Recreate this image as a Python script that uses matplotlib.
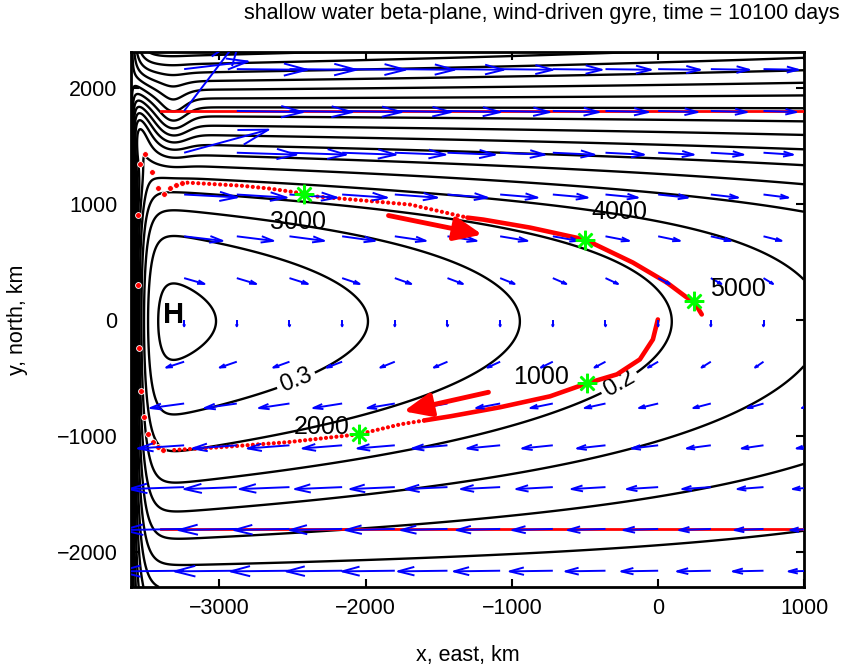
import numpy as np
import matplotlib
matplotlib.use("Agg")
import matplotlib.pyplot as plt
from matplotlib.collections import LineCollection

plt.rcParams['font.family'] = ['Liberation Sans', 'DejaVu Sans']

# ---------------- axes ----------------
x_lim = (-3600.0, 1000.0)
y_lim = (-2300.0, 2310.0)
x_ticks = [-3000, -2000, -1000, 0, 1000]
y_ticks = [-2000, -1000, 0, 1000, 2000]

# ---------------- surface height model (km, m) ----------------
x_west, x_east = -3600.0, 4250.0
h_wall = -0.27
bl_width = 52.0
h_slope = 4.82e-5
shape_k, shape_L = 7.3e-4, 1300.0
north_k, north_y, north_w = 4.5e-4, 1200.0, 250.0
jet_k, jet_y, jet_w = 3.0e-4, 1150.0, 200.0
eddy_amp, eddy_x, eddy_y, eddy_sx, eddy_sy = -0.08, -3320.0, 1740.0, 120.0, 280.0
ridge_amp, ridge_w, ridge_y, ridge_sy = 0.20, 45.0, 1620.0, 330.0
levels = np.round(np.arange(-0.60, 0.36, 0.05), 2)
label_levels = [0.3, 0.2]
label_spots = [(-2478, -512), (-257, -563)]

# ---------------- velocity arrows ----------------
arrow_step = 360.0
u_north, u_south, u_width, u_ref_x = 420.0, 370.0, 1400.0, -1440.0
v_center, v_width = 55.0, 1200.0
eddy_flow = 1.19e6

# ---------------- float track (km) ----------------
track_a_x = [-2, -36, -125, -282, -486, -739, -1080, -1420, -1600]
track_a_y = [4, -168, -340, -469, -546, -658, -752, -830, -866]
track_b_x = [-1600, -1761, -2048, -2532, -2989, -3330]
track_b_y = [-866, -899, -985, -1053, -1096, -1122]
track_c_x = [-3385, -3419, -3453, -3487, -3515, -3535, -3549, -3556, -3556,
             -3542, -3508, -3460, -3419, -3378, -3337, -3296, -3255]
track_c_y = [-1122, -1096, -1053, -985, -838, -615, -245, 297, 907,
             1345, 1431, 1276, 1139, 1087, 1139, 1165, 1182]
track_d_x = [-3255, -3214, -2852, -2647, -2422, -2327, -2082, -1693, -1304]
track_d_y = [1182, 1182, 1156, 1130, 1088, 1062, 1036, 993, 881]
track_e_x = [-1304, -1195, -875, -500, -173, 59, 196, 244, 298]
track_e_y = [881, 864, 795, 692, 494, 322, 193, 159, 47]

zonal_track_x = [-3400, 1000]
zonal_track_y = [1800, -1800]

star_x = [-486, -2048, -2422, -500, 244]
star_y = [-546, -985, 1088, 692, 159]
star_days = ['1000', '2000', '3000', '4000', '5000']
day_label_x = [-800, -2301, -2464, -268, 543]
day_label_y = [-494, -924, 847, 933, 262]

flow_arrow_tail = [(-1843, 899), (-1160, -623)]
flow_arrow_head = [(-1202, 735), (-1740, -787)]

high_x, high_y = -3315, 39

title = 'shallow water beta-plane, wind-driven gyre, time = 10100 days'
x_label = 'x, east, km'
y_label = 'y, north, km'


def softplus(z):
    return np.logaddexp(0.0, z)


def eddy(x, y):
    return eddy_amp * np.exp(-((x - eddy_x) / eddy_sx) ** 2 - ((y - eddy_y) / eddy_sy) ** 2)


def surface_height(x, y):
    g = (1.0 - shape_k * (np.sqrt(y ** 2 + shape_L ** 2) - shape_L)
         - north_k * north_w * softplus((y - north_y) / north_w))
    jet = -jet_k * jet_w * softplus((y - jet_y) / jet_w)
    interior = h_slope * (x_east - x) * g + jet
    d = x - x_west
    blend = 1.0 - np.exp(-d / bl_width)
    ridge = (ridge_amp * (d / ridge_w) * np.exp(1.0 - d / ridge_w)
             * np.exp(-((y - ridge_y) / ridge_sy) ** 2))
    return h_wall + (interior - h_wall) * blend + ridge + eddy(x, y)


def velocity(x, y):
    amp = np.where(y >= 0, u_north, u_south)
    u = (x_east - x) / (x_east - u_ref_x) * amp * np.tanh(y / u_width)
    v = -v_center / np.cosh(y / v_width) ** 2
    hp = eddy(x, y)
    hp_x = -2.0 * (x - eddy_x) / eddy_sx ** 2 * hp
    hp_y = -2.0 * (y - eddy_y) / eddy_sy ** 2 * hp
    return u - eddy_flow * hp_y, v + eddy_flow * hp_x


def matlab_arrows(ax, X, Y, U, V, **kw):
    a, b = 0.33, 0.33
    segs = []
    for x, y, u, v in zip(X.ravel(), Y.ravel(), U.ravel(), V.ravel()):
        tx, ty = x + u, y + v
        segs.append([(x, y), (tx, ty)])
        segs.append([(tx - a * (u + b * v), ty - a * (v - b * u)), (tx, ty),
                     (tx - a * (u - b * v), ty - a * (v + b * u))])
    ax.add_collection(LineCollection(segs, **kw))


fig = plt.figure(figsize=(8.57, 6.68), dpi=100)
ax = fig.add_axes([0.1534, 0.1213, 0.7853, 0.8013])

xg = np.arange(x_lim[0], x_lim[1] + 1, 6.0)
yg = np.arange(y_lim[0], y_lim[1] + 1, 6.0)
XG, YG = np.meshgrid(xg, yg)
H = surface_height(XG, YG)
plain_levels = [lv for lv in levels if lv not in label_levels]
ax.contour(XG, YG, H, levels=plain_levels, colors='black', linewidths=1.7,
           linestyles='solid', zorder=2)
for lv, spot in zip(label_levels, label_spots):
    cl = ax.contour(XG, YG, H, levels=[lv], colors='black', linewidths=1.7,
                    linestyles='solid', zorder=2)
    ax.clabel(cl, inline=True, inline_spacing=4, fontsize=17, fmt='%.1f',
              manual=[spot])

# zonal floats along the gyre edges
for yy in zonal_track_y:
    ax.plot(zonal_track_x, [yy, yy], color='red', lw=2.0, zorder=3)

# main float
ax.plot(track_a_x, track_a_y, color='red', lw=3.3, solid_capstyle='round', zorder=4)
ax.plot(track_e_x, track_e_y, color='red', lw=3.3, solid_capstyle='round', zorder=4)
ax.plot(track_b_x, track_b_y, color='red', lw=3.0, linestyle=(0, (0.01, 1.25)),
        dash_capstyle='round', zorder=4)
ax.plot(track_d_x, track_d_y, color='red', lw=3.0, linestyle=(0, (0.01, 1.3)),
        dash_capstyle='round', zorder=4)
ax.plot(track_c_x, track_c_y, linestyle='none', marker='o', ms=4.2,
        mfc='red', mec='white', mew=0.6, zorder=4)

# velocity arrows
xq = np.arange(-3240.0, 1081.0, arrow_step)
yq = np.arange(-2160.0, 2161.0, arrow_step)
XQ, YQ = np.meshgrid(xq, yq)
UQ, VQ = velocity(XQ, YQ)
matlab_arrows(ax, XQ, YQ, UQ, VQ, colors='blue', linewidths=1.4, zorder=5)

# direction arrows along the float path
for tail, head in zip(flow_arrow_tail, flow_arrow_head):
    ax.annotate('', xy=head, xytext=tail,
                arrowprops=dict(arrowstyle='-|>,head_length=1.4,head_width=0.6',
                                color='red', lw=3.5, shrinkA=0, shrinkB=0,
                                mutation_scale=12), zorder=6)

ax.plot(star_x, star_y, linestyle='none', marker=(8, 2, 0), ms=14, mew=1.8,
        color=(0, 1, 0), zorder=7)
for lx, ly, s in zip(day_label_x, day_label_y, star_days):
    ax.text(lx, ly, s, fontsize=18, ha='center', va='center', zorder=7)
ax.text(high_x, high_y, 'H', fontsize=21, fontweight='bold', ha='center',
        va='center', zorder=7)

ax.set_xlim(*x_lim)
ax.set_ylim(*y_lim)
ax.set_xticks(x_ticks)
ax.set_yticks(y_ticks)
ax.tick_params(direction='in', length=6, width=1.5, labelsize=15.5,
               top=True, right=True)
ax.tick_params(axis='x', pad=8)
ax.tick_params(axis='y', pad=10)
for sp in ax.spines.values():
    sp.set_linewidth(2.0)
fig.text(468 / 857, 1 - 655 / 668, x_label, fontsize=15.5, ha='center', va='center')
fig.text(18 / 857, 1 - 320 / 668, y_label, fontsize=15.5, rotation=90,
         ha='center', va='center')
fig.text(542 / 857, 1 - 14 / 668, title, fontsize=15.5, ha='center', va='center')

fig.savefig('out.png', dpi=100)
